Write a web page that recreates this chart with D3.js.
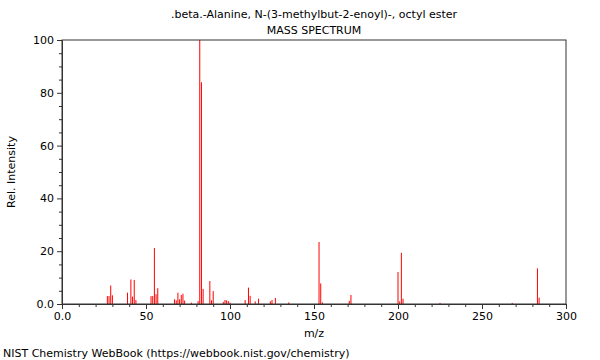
<!DOCTYPE html>
<html><head><meta charset="utf-8">
<script src="https://cdn.jsdelivr.net/npm/d3@7"></script>
<style>body{margin:0;background:#fff}svg{display:block;font-family:"DejaVu Sans",sans-serif}</style>
</head><body><svg id="c" width="600" height="360"></svg>
<script>
const title = ".beta.-Alanine, N-(3-methylbut-2-enoyl)-, octyl ester";
const subtitle = "MASS SPECTRUM";
const mz = [27,28,29,30,39,41,42,43,44,53,54,55,56,57,67,68,69,70,71,72,73,77,81,82,83,84,88,89,90,96,97,98,99,100,109,111,112,115,117,124,125,127,135,153,154,155,171,172,200,201,202,203,225,268,283,284];
const intensity = [3,3,7,3.3,4.3,9.3,2.8,9.1,1.5,3,3,21.2,3.7,6,1.8,1.4,4.3,1.8,3.4,3.9,1.3,0.5,1.1,100,84,5.7,8.7,1.4,4.9,0.8,1.5,1.4,1.1,0.5,1.5,6.2,3.1,1.0,2.0,1.0,1.5,2.3,0.6,23.5,7.8,0.6,1.2,3.4,12.1,1.0,19.4,2.0,0.4,0.4,13.5,2.4];
const xTicks = [0,50,100,150,200,250,300];
const xTickLabels = ["0.0","50","100","150","200","250","300"];
const yTicks = [0,20,40,60,80,100];
const yTickLabels = ["0.0","20","40","60","80","100"];

const m = {l:62, t:40, r:34, b:56};
const W = 600, H = 360;
const iw = W - m.l - m.r, ih = H - m.t - m.b;
const svg = d3.select("#c");
const g = svg.append("g").attr("transform", `translate(${m.l},${m.t})`);
const x = d3.scaleLinear().domain([0,300]).range([0, iw]);
const y = d3.scaleLinear().domain([0,100]).range([ih, 0]);
const axisCol = "#333";

// peaks
g.selectAll("line.pk").data(mz.map((d,i)=>({m:d,v:intensity[i]}))).join("line")
  .attr("class","pk")
  .attr("x1", d=>x(d.m)).attr("x2", d=>x(d.m))
  .attr("y1", y(0)).attr("y2", d=>y(d.v))
  .attr("stroke","#ff0000").attr("stroke-width",1);

// frame
g.append("rect").attr("x",0).attr("y",0).attr("width",iw).attr("height",ih)
  .attr("fill","none").attr("stroke",axisCol).attr("stroke-width",1);

// x axis
const xa = g.append("g").attr("transform",`translate(0,${ih})`)
  .call(d3.axisBottom(x).tickValues(xTicks).tickFormat((d,i)=>xTickLabels[i]).tickSize(5).tickPadding(3));
const xm = g.append("g").attr("transform",`translate(0,${ih})`)
  .call(d3.axisBottom(x).tickValues(d3.range(0,301,10).filter(v=>v%50)).tickFormat("").tickSize(3));
xm.select(".domain").remove();
// y axis
const ya = g.append("g")
  .call(d3.axisLeft(y).tickValues(yTicks).tickFormat((d,i)=>yTickLabels[i]).tickSize(5).tickPadding(3));
const ym = g.append("g")
  .call(d3.axisLeft(y).tickValues(d3.range(0,101,5).filter(v=>v%20)).tickFormat("").tickSize(3));
ym.select(".domain").remove();
svg.selectAll(".tick line, .domain").attr("stroke",axisCol);
svg.selectAll(".tick text").attr("font-size",11).attr("fill","#000").attr("font-family","DejaVu Sans, sans-serif");

// texts
svg.append("text").attr("x",m.l+iw/2).attr("y",18).attr("text-anchor","middle").attr("font-size",11).text(title);
svg.append("text").attr("x",m.l+iw/2).attr("y",34).attr("text-anchor","middle").attr("font-size",11).text(subtitle);
svg.append("text").attr("x",m.l+iw/2).attr("y",337).attr("text-anchor","middle").attr("font-size",11).text("m/z");
svg.append("text").attr("transform",`translate(15,${m.t+ih/2}) rotate(-90)`).attr("text-anchor","middle").attr("font-size",11).text("Rel. Intensity");
svg.append("text").attr("x",3).attr("y",357).attr("font-size",11).text("NIST Chemistry WebBook (https://webbook.nist.gov/chemistry)");
</script></body></html>
